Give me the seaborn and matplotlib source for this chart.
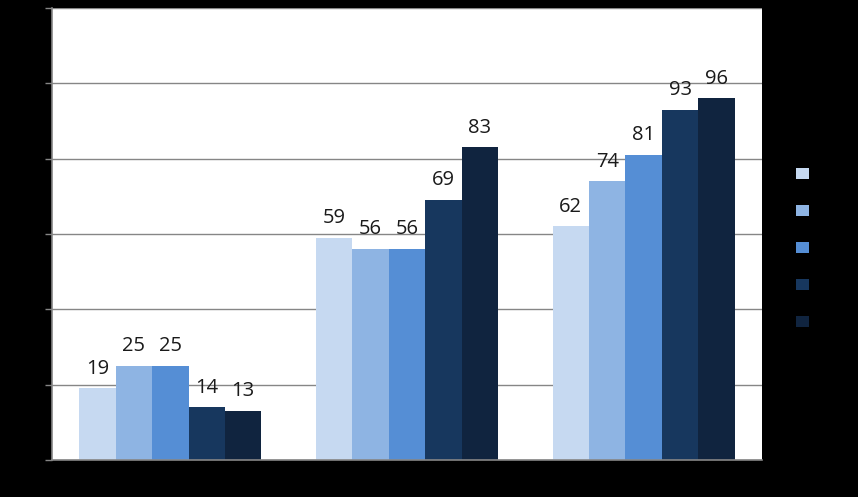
import matplotlib
matplotlib.use("Agg")
import matplotlib.pyplot as plt
from matplotlib.patches import Patch
import seaborn as sns
import pandas as pd

categories = ["Category 1", "Category 2", "Category 3"]
series = ["Series 1", "Series 2", "Series 3", "Series 4", "Series 5"]
values = {
    "Series 1": [19, 59, 62],
    "Series 2": [25, 56, 74],
    "Series 3": [25, 56, 81],
    "Series 4": [14, 69, 93],
    "Series 5": [13, 83, 96],
}
colors = ["#C6D9F1", "#8EB4E3", "#558ED5", "#17375E", "#10243F"]
y_ticks = [0, 20, 40, 60, 80, 100, 120]

rows = []
for s in series:
    for c, v in zip(categories, values[s]):
        rows.append({"category": c, "series": s, "value": v})
df = pd.DataFrame(rows)

sns.set_style("white")
plt.rcParams["font.family"] = ["Open Sans", "DejaVu Sans"]

W, H = 858, 497
fig = plt.figure(figsize=(W / 100, H / 100), dpi=100, facecolor="black")
ax = fig.add_axes([52 / W, 1 - 460 / H, (762 - 52) / W, (460 - 8) / H])
ax.set_facecolor("white")

sns.barplot(data=df, x="category", y="value", hue="series", order=categories,
            hue_order=series, palette=colors, width=0.77, saturation=1,
            ax=ax, legend=False, edgecolor="none", linewidth=0)

for cont in ax.containers:
    ax.bar_label(cont, padding=7, fontsize=14.5, color="#1a1a1a")

ax.set_ylim(0, 120)
ax.set_xlim(-0.5, 2.5)
ax.set_yticks(y_ticks)
ax.set_yticklabels([str(t) for t in y_ticks], color="black")
ax.yaxis.grid(True, color="#868686", linewidth=1)
ax.set_axisbelow(True)
ax.set_xticks([0, 1, 2])
ax.set_xticklabels(categories, color="black")
ax.tick_params(axis="x", length=0)
ax.set_xticks([-0.5, 0.5, 1.5, 2.5], minor=True)
ax.tick_params(axis="x", which="minor", length=5, color="#868686", width=1)
ax.tick_params(axis="y", length=5, color="#868686", width=1, left=True)
ax.set_xlabel("")
ax.set_ylabel("")
for side in ["top", "right"]:
    ax.spines[side].set_visible(False)
for side in ["left", "bottom"]:
    ax.spines[side].set_color("#868686")
    ax.spines[side].set_linewidth(1.2)

handles = [Patch(facecolor=c, edgecolor="none") for c in colors]
fig.legend(handles, series, loc="upper left",
           bbox_to_anchor=(796 / W, 1 - 168 / H), frameon=False,
           fontsize=7, handlelength=1.32, handleheight=1.32, handletextpad=0.4,
           labelspacing=2.62, borderpad=0, borderaxespad=0, labelcolor="black")

fig.savefig("out.png", dpi=100, facecolor="black")
